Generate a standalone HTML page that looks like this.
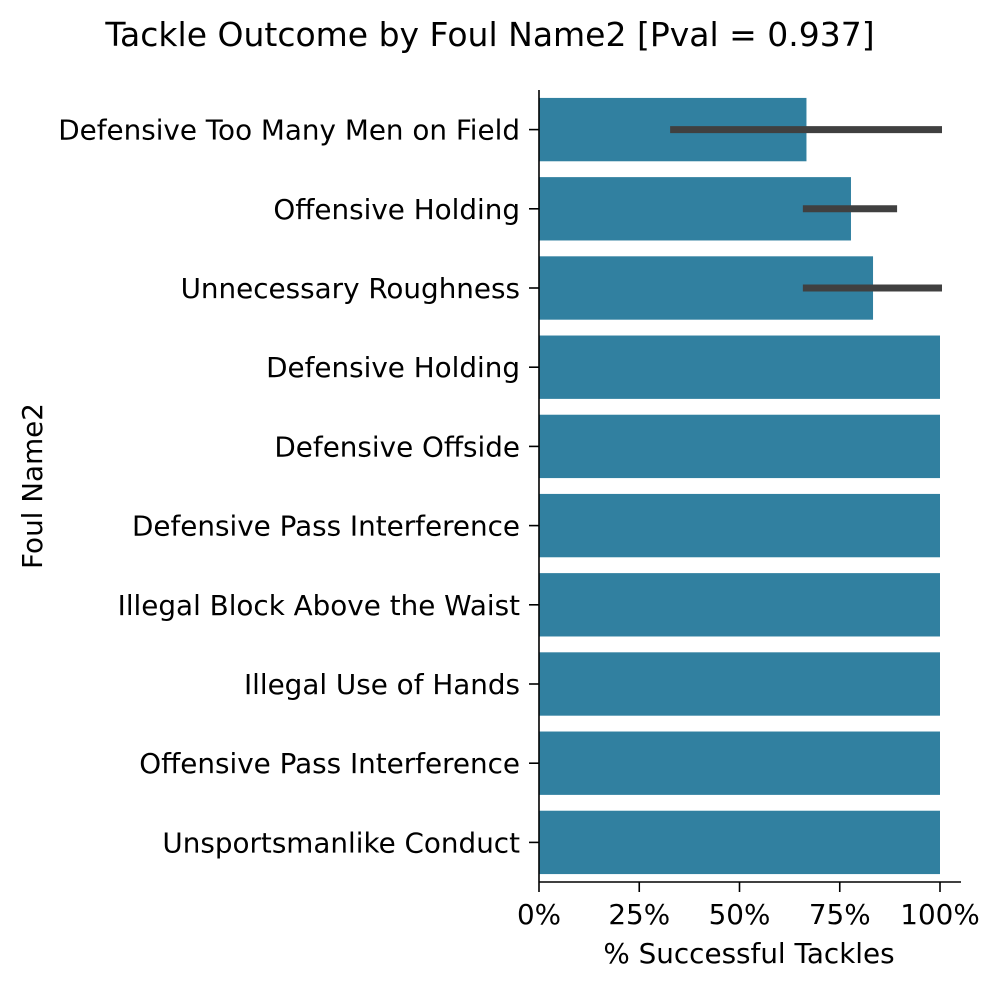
<!DOCTYPE html>
<html><head><meta charset="utf-8"><style>
body{margin:0;background:#fff;}
svg text{font-family:"DejaVu Sans","Liberation Sans",sans-serif;fill:#000;}
</style></head><body>
<svg id="chart" width="999" height="989" viewBox="0 0 999 989" xmlns="http://www.w3.org/2000/svg">
<text x="490" y="46" font-size="33" text-anchor="middle">Tackle Outcome by Foul Name2 [Pval = 0.937]</text>
<text x="749" y="963" font-size="27.8" text-anchor="middle">% Successful Tackles</text>
<text x="0" y="0" font-size="27.8" text-anchor="middle" transform="translate(42,486) rotate(-90)">Foul Name2</text>
<g id="bars"></g><g id="axes"></g>
</svg>
<script>
const categories=["Defensive Too Many Men on Field","Offensive Holding","Unnecessary Roughness","Defensive Holding","Defensive Offside","Defensive Pass Interference","Illegal Block Above the Waist","Illegal Use of Hands","Offensive Pass Interference","Unsportsmanlike Conduct"];
const values=[66.7,77.8,83.3,100,100,100,100,100,100,100];
const ciLow=[32.7,65.8,65.8,null,null,null,null,null,null,null];
const ciHigh=[100.5,89.3,100.5,null,null,null,null,null,null,null];
const xTicks=[0,25,50,75,100];
const xTickLabels=["0%","25%","50%","75%","100%"];
const NS="http://www.w3.org/2000/svg";
const x0=539,x100=940,yTop=90,yBottom=882;
const band=(yBottom-yTop)/categories.length;
const xs=v=>x0+(x100-x0)*v/100;
const yc=i=>yTop+band*(i+0.5);
function mk(t,a,p){const e=document.createElementNS(NS,t);for(const k in a)e.setAttribute(k,a[k]);p.appendChild(e);return e;}
const bars=document.getElementById('bars'),axes=document.getElementById('axes');
categories.forEach((c,i)=>{
 const r=mk('rect',{x:x0,y:yc(i)-band*0.4,width:xs(values[i])-x0,height:band*0.8,fill:'#3180a0'},bars);
 
 
 if(ciLow[i]!=null){
  const l=mk('line',{x1:xs(ciLow[i]),x2:xs(ciHigh[i]),y1:yc(i),y2:yc(i),stroke:'#404040','stroke-width':7},bars);
  
  
 }
 const tk=mk('line',{x1:x0-10,x2:x0,y1:yc(i),y2:yc(i),stroke:'#000','stroke-width':1.6},axes);
 
 
 const t=mk('text',{x:x0-19,y:yc(i)+10,'font-size':27.8,'text-anchor':'end'},axes);
 t.textContent=c;
 
 
});
xTicks.forEach((v,i)=>{
 const tk=mk('line',{x1:xs(v),x2:xs(v),y1:yBottom,y2:yBottom+10,stroke:'#000','stroke-width':1.6},axes);
 
 
 const t=mk('text',{x:xs(v),y:yBottom+42,'font-size':27.8,'text-anchor':'middle'},axes);
 t.textContent=xTickLabels[i];
 
 
});
const ya=mk('line',{x1:x0,x2:x0,y1:yTop,y2:yBottom,stroke:'#000','stroke-width':1.6},axes);


const xa=mk('line',{x1:x0,x2:961,y1:yBottom,y2:yBottom,stroke:'#000','stroke-width':1.6},axes);


</script>
</body></html>
